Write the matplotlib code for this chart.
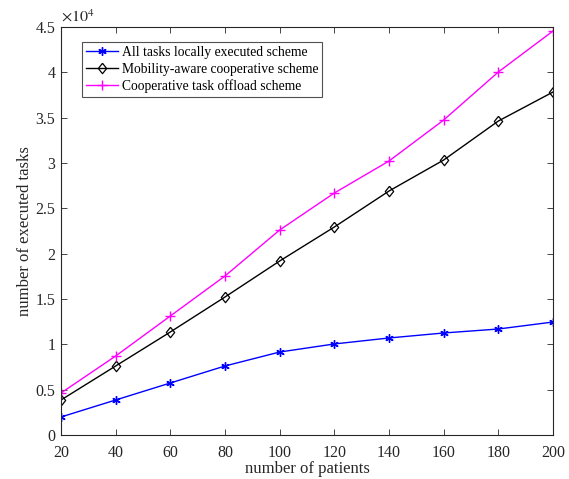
import matplotlib
matplotlib.use("Agg")
import matplotlib.pyplot as plt

plt.rcParams['font.family'] = ['Liberation Serif', 'DejaVu Serif']
plt.rcParams['mathtext.fontset'] = 'stix'

patients = [20, 40, 60, 80, 100, 120, 140, 160, 180, 200]
local_tasks = [1985, 3860, 5735, 7610, 9150, 10040, 10700, 11250, 11690, 12460]
mobility_tasks = [3860, 7610, 11360, 15220, 19190, 22940, 26910, 30330, 34630, 37830]
offload_tasks = [4630, 8710, 13125, 17540, 22610, 26690, 30220, 34740, 40040, 44560]
labels = ['All tasks locally executed scheme',
          'Mobility-aware cooperative scheme',
          'Cooperative task offload scheme']

gray = '#262626'
diamond = [(0, 1), (0.8, 0), (0, -1), (-0.8, 0), (0, 1)]
fig = plt.figure(figsize=(5.69, 4.79), dpi=100)
ax = fig.add_axes([0.1072, 0.0919, 0.8647, 0.8517])

ax.plot(patients, local_tasks, color='blue', marker=(6, 2, 0), markersize=6, mew=1.0, lw=1.0, label=labels[0])
ax.plot(patients, mobility_tasks, color='black', marker=diamond, markersize=7.5, mew=0.9, markerfacecolor='none', lw=1.0, label=labels[1])
ax.plot(patients, offload_tasks, color='magenta', marker='+', markersize=7, mew=1.0, lw=1.0, label=labels[2])

ax.set_xlim(20, 200)
ax.set_ylim(0, 45000)
ax.set_xticks(patients)
yt = [i * 5000 for i in range(10)]
ax.set_yticks(yt)
ax.set_yticklabels(['0', '0.5', '1', '1.5', '2', '2.5', '3', '3.5', '4', '4.5'])
ax.tick_params(axis='both', direction='in', top=True, right=True, labelsize=11.5, length=4,
               width=0.6, colors=gray)
ax.tick_params(axis='x', pad=7)
ax.tick_params(axis='y', pad=4)
for s in ax.spines.values():
    s.set_linewidth(0.8)
    s.set_color(gray)
ax.text(0.0, 1.003, r'$\times 10^4$', transform=ax.transAxes, fontsize=11.5, va='bottom', ha='left', color=gray)

ax.set_xlabel('number of patients', fontsize=12, color=gray, labelpad=0)
ax.set_ylabel('number of executed tasks', fontsize=12, color=gray, labelpad=2)

leg = ax.legend(loc='upper left', bbox_to_anchor=(0.043, 0.963), fontsize=9.8, frameon=True, fancybox=False,
                edgecolor=gray, borderpad=0.3, labelspacing=0.25, handlelength=2.3, handletextpad=0.3,
                borderaxespad=0)
leg.get_frame().set_linewidth(0.8)

fig.savefig('out.png', dpi=100)
